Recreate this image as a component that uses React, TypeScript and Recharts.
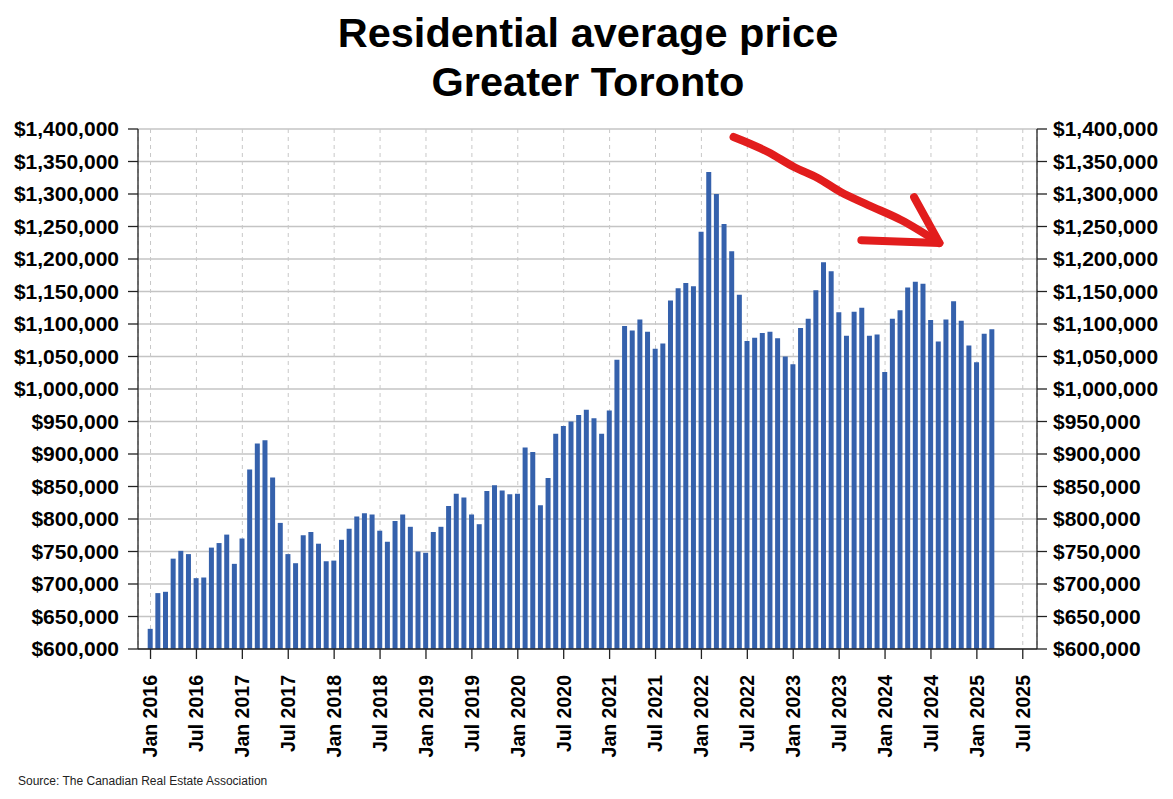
import { ComposedChart, Bar, Line, XAxis, YAxis, CartesianGrid } from "recharts";

// monthly average price, Jan 2016 - Mar 2025
const prices = [
    631000, 686000, 688000, 739000, 751000, 746000, 709000, 710000, 756000, 763000, 776000, 731000,
    770000, 876000, 916000, 921000, 864000, 794000, 746000, 732000, 775000, 780000, 762000, 735000,
    736000, 768000, 785000, 804000, 809000, 807000, 782000, 765000, 797000, 807000, 788000, 750000,
    748000, 780000, 788000, 820000, 839000, 833000, 807000, 792000, 843000, 852000, 844000, 838000,
    839000, 910000, 903000, 821000, 863000, 931000, 943000, 950000, 960000, 968000, 955000, 931000,
    967000, 1045000, 1097000, 1090000, 1107000, 1088000, 1062000, 1070000, 1136000, 1155000, 1163000, 1158000,
    1242000, 1334000, 1300000, 1254000, 1212000, 1145000, 1074000, 1079000, 1086000, 1088000, 1078000, 1050000,
    1038000, 1094000, 1108000, 1152000, 1195000, 1181000, 1118000, 1082000, 1119000, 1125000, 1082000, 1084000,
    1026000, 1108000, 1121000, 1156000, 1165000, 1162000, 1106000, 1073000, 1107000, 1135000, 1105000, 1067000,
    1041000, 1085000, 1092000,
];

const monthNames = ["Jan", "Feb", "Mar", "Apr", "May", "Jun", "Jul", "Aug", "Sep", "Oct", "Nov", "Dec"];
const years = [2016, 2017, 2018, 2019, 2020, 2021, 2022, 2023, 2024, 2025];
const monthCount = 115; // Jan 2016 .. Jul 2025

const xTicks = [
    "Jan 2016", "Jul 2016", "Jan 2017", "Jul 2017", "Jan 2018", "Jul 2018", "Jan 2019", "Jul 2019",
    "Jan 2020", "Jul 2020", "Jan 2021", "Jul 2021", "Jan 2022", "Jul 2022", "Jan 2023", "Jul 2023",
    "Jan 2024", "Jul 2024", "Jan 2025", "Jul 2025",
];
const yTicks = [
    600000, 650000, 700000, 750000, 800000, 850000, 900000, 950000, 1000000,
    1050000, 1100000, 1150000, 1200000, 1250000, 1300000, 1350000, 1400000,
];

// hand-drawn red arrow, in month-index / price units
const arrowX = [76.2, 80.7, 84.1, 87.2, 90.2, 93.8, 98.1, 103.1];
const arrowY = [1387700, 1364600, 1341500, 1324600, 1303000, 1283000, 1260000, 1224600];
const headX = [99.8, 103.1, 92.9];
const headY = [1295000, 1224600, 1229000];

const months = years
    .flatMap((yr) => monthNames.map((m) => `${m} ${yr}`))
    .slice(0, monthCount);
const data = months.map((month, i) => ({
    month,
    price: i < prices.length ? prices[i] : null,
}));
const shaft = arrowX.map((x, i) => ({ x, y: arrowY[i] }));
const head = headX.map((x, i) => ({ x, y: headY[i] }));

const FONT = "'Liberation Sans', Arial, Helvetica, sans-serif";
const W = 1157;
const H = 780;
const plotWidth = 899;
const padL = 8.7;
const padR = 10.4;
const band = (plotWidth - padL - padR) / monthCount;

const fmt = (v: number) => "$" + v.toLocaleString("en-US");

const XTick = (props: any) => {
    const { x, y, payload } = props;
    return (
        <text
            x={x}
            y={y}
            transform={`rotate(-90, ${x}, ${y})`}
            textAnchor="end"
            dy="0.35em"
            fontSize={19.5}
            fontWeight={700}
            fontFamily={FONT}
            fill="#000"
        >
            {payload.value}
        </text>
    );
};

const yTickStyle = { fill: "#000", fontSize: 21, fontWeight: 700, fontFamily: FONT };

export default function App() {
    return (
        <div style={{ position: "relative", width: W, height: H, fontFamily: FONT }}>
            <div
                style={{
                    position: "absolute",
                    left: 0,
                    top: 0,
                    width: 1160,
                    textAlign: "center",
                    fontSize: 41.5,
                    fontWeight: 700,
                    lineHeight: "49px",
                    color: "#000",
                }}
            >
                Residential average price
                <br />
                Greater Toronto
            </div>
            <div style={{ position: "absolute", left: 0, top: 0 }}>
                <ComposedChart
                    width={W}
                    height={H}
                    data={data}
                    margin={{ top: 121, right: 0, bottom: 0, left: 0 }}
                >
                    <CartesianGrid vertical={false} stroke="#c4c4c4" strokeWidth={1.3} />
                    <CartesianGrid horizontal={false} stroke="#c8c8c8" strokeDasharray="4 4" />
                    <XAxis
                        dataKey="month"
                        ticks={xTicks}
                        interval={0}
                        height={139}
                        padding={{ left: padL, right: padR }}
                        tickSize={10}
                        tickMargin={16}
                        tick={<XTick />}
                        axisLine={{ stroke: "#222", strokeWidth: 1.3 }}
                        tickLine={{ stroke: "#222", strokeWidth: 1.3 }}
                    />
                    <XAxis
                        xAxisId="arrow"
                        dataKey="x"
                        type="number"
                        domain={[0, monthCount - 1]}
                        allowDataOverflow
                        padding={{ left: padL + band / 2, right: padR + band / 2 }}
                        hide
                    />
                    <YAxis
                        domain={[600000, 1400000]}
                        allowDataOverflow
                        ticks={yTicks}
                        interval={0}
                        width={130}
                        tickSize={10}
                        tickMargin={9}
                        tickFormatter={fmt}
                        tick={yTickStyle}
                        axisLine={{ stroke: "#222", strokeWidth: 1.3 }}
                        tickLine={{ stroke: "#222", strokeWidth: 1.3 }}
                    />
                    <YAxis
                        yAxisId="right"
                        orientation="right"
                        domain={[600000, 1400000]}
                        allowDataOverflow
                        ticks={yTicks}
                        interval={0}
                        width={128}
                        tickSize={10}
                        tickMargin={6}
                        tickFormatter={fmt}
                        tick={yTickStyle}
                        axisLine={{ stroke: "#222", strokeWidth: 1.3 }}
                        tickLine={{ stroke: "#222", strokeWidth: 1.3 }}
                    />
                    <Bar
                        dataKey="price"
                        fill="#3561ac"
                        barSize={5}
                        isAnimationActive={false}
                    />
                    <Line
                        xAxisId="arrow"
                        data={shaft}
                        dataKey="y"
                        type="monotone"
                        stroke="#e21d1d"
                        strokeWidth={8}
                        strokeLinecap="round"
                        strokeLinejoin="round"
                        dot={false}
                        activeDot={false}
                        isAnimationActive={false}
                    />
                    <Line
                        xAxisId="arrow"
                        data={head}
                        dataKey="y"
                        type="linear"
                        stroke="#e21d1d"
                        strokeWidth={8}
                        strokeLinecap="round"
                        strokeLinejoin="round"
                        dot={false}
                        activeDot={false}
                        isAnimationActive={false}
                    />
                </ComposedChart>
            </div>
            <div
                style={{
                    position: "absolute",
                    left: 10,
                    top: 767,
                    fontSize: 12,
                    lineHeight: "12px",
                    color: "#222",
                }}
            >
                Source: The Canadian Real Estate Association
            </div>
        </div>
    );
}
